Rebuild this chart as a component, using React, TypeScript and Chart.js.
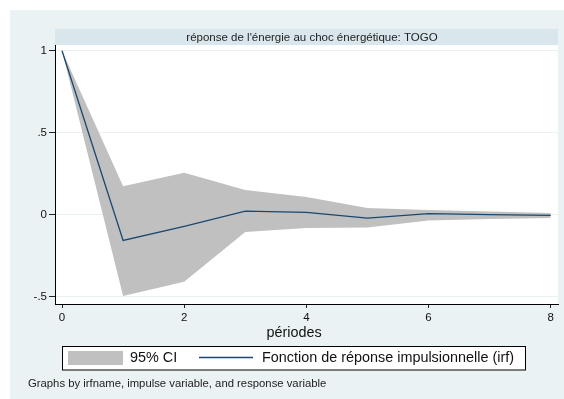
import React, { useEffect, useRef } from "react";
import { Chart, registerables } from "chart.js";

Chart.register(...registerables);

const periods = [0, 1, 2, 3, 4, 5, 6, 7, 8];
const irf = [1, -0.157, -0.071, 0.022, 0.014, -0.021, 0.006, 0.0, -0.004];
const ciUpper = [1, 0.174, 0.256, 0.15, 0.107, 0.041, 0.028, 0.02, 0.01];
const ciLower = [1, -0.496, -0.41, -0.106, -0.082, -0.079, -0.035, -0.027, -0.021];
const xTicks = [0, 2, 4, 6, 8];
const xTickLabels = ["0", "2", "4", "6", "8"];
const yTicks = [-0.5, 0, 0.5, 1];
const yTickLabels = ["-.5", "0", ".5", "1"];
const titleText = "réponse de l'énergie au choc énergétique: TOGO";
const xTitle = "périodes";
const legendLabels = ["95% CI", "Fonction de réponse impulsionnelle (irf)"];
const footerText = "Graphs by irfname, impulse variable, and response variable";

const FONT = '"Liberation Sans", Arial, Helvetica, sans-serif';
const BG = "#EAF2F3";
const STRIP = "#D9E6EB";
const CI_COLOR = "#C0C0C0";
const LINE_COLOR = "#1A476F";

const decorPlugin = {
  id: "decor",
  beforeDraw(chart: any) {
    const { ctx, width, height, chartArea } = chart;
    ctx.save();
    ctx.fillStyle = "#FFFFFF";
    ctx.fillRect(0, 0, width, height);
    ctx.fillStyle = BG;
    ctx.fillRect(10, 10, width - 10, height - 10);
    ctx.fillStyle = "#FFFFFF";
    ctx.fillRect(chartArea.left, chartArea.top, chartArea.right - chartArea.left, chartArea.bottom - chartArea.top);
    // title strip
    ctx.fillStyle = STRIP;
    ctx.fillRect(chartArea.left, 29, chartArea.right - chartArea.left, 16);
    ctx.fillStyle = "#1E1E1E";
    ctx.font = `11.5px ${FONT}`;
    ctx.textAlign = "center";
    ctx.textBaseline = "middle";
    ctx.fillText(titleText, 312, 37.5);
    ctx.restore();
  },
  afterDraw(chart: any) {
    const { ctx } = chart;
    ctx.save();
    // x axis title
    ctx.fillStyle = "#111111";
    ctx.font = `14.4px ${FONT}`;
    ctx.textAlign = "center";
    ctx.textBaseline = "middle";
    ctx.fillText(xTitle, 294, 333);
    // legend box
    const lx = 62.5, ly = 346.5, lw = 463, lh = 23.5;
    ctx.fillStyle = "#FFFFFF";
    ctx.fillRect(lx, ly, lw, lh);
    ctx.strokeStyle = "#000000";
    ctx.lineWidth = 1;
    ctx.strokeRect(lx, ly, lw, lh);
    ctx.fillStyle = CI_COLOR;
    ctx.fillRect(68, 351, 55, 14);
    ctx.fillStyle = "#111111";
    ctx.textAlign = "left";
    ctx.fillText(legendLabels[0], 130, 358.5);
    ctx.strokeStyle = LINE_COLOR;
    ctx.lineWidth = 1.3;
    ctx.beginPath();
    ctx.moveTo(199, 357.5);
    ctx.lineTo(253, 357.5);
    ctx.stroke();
    ctx.fillText(legendLabels[1], 262, 358.5);
    // footer
    ctx.font = `11.3px ${FONT}`;
    ctx.fillStyle = "#222222";
    ctx.fillText(footerText, 28, 384);
    ctx.restore();
  },
};

export default function App() {
  const canvasRef = useRef<HTMLCanvasElement | null>(null);

  useEffect(() => {
    if (!canvasRef.current) return;
    const chart = new Chart(canvasRef.current, {
      type: "line",
      data: {
        datasets: [
          {
            label: "irf",
            data: periods.map((p, i) => ({ x: p, y: irf[i] })),
            borderWidth: 1.3,
            borderColor: LINE_COLOR,
            pointRadius: 0,
            fill: false,
            tension: 0,
          },
          {
            label: "upper",
            data: periods.map((p, i) => ({ x: p, y: ciUpper[i] })),
            borderWidth: 0,
            borderColor: "rgba(0,0,0,0)",
            backgroundColor: CI_COLOR,
            pointRadius: 0,
            fill: "+1",
            tension: 0,
          },
          {
            label: "lower",
            data: periods.map((p, i) => ({ x: p, y: ciLower[i] })),
            borderWidth: 0,
            borderColor: "rgba(0,0,0,0)",
            backgroundColor: CI_COLOR,
            pointRadius: 0,
            fill: false,
            tension: 0,
          },
        ],
      },
      options: {
        animation: false,
        responsive: false,
        maintainAspectRatio: false,
        devicePixelRatio: 1,
        layout: { padding: { left: 0, right: 6, top: 45, bottom: 0 } },
        plugins: {
          legend: { display: false },
          title: { display: false },
          tooltip: { enabled: false },
          filler: { drawTime: "beforeDatasetsDraw" },
        },
        scales: {
          x: {
            type: "linear",
            min: -0.115,
            max: 8.12,
            afterBuildTicks: (scale: any) => {
              scale.ticks = xTicks.map((v) => ({ value: v }));
            },
            afterFit: (scale: any) => {
              scale.height = 95;
            },
            ticks: {
              autoSkip: false,
              maxRotation: 0,
              padding: 3,
              color: "#111111",
              font: { family: FONT, size: 11.5 },
              callback: (value: any) => {
                const i = xTicks.indexOf(Number(value));
                return i >= 0 ? xTickLabels[i] : "";
              },
            },
            grid: {
              drawOnChartArea: false,
              drawTicks: true,
              tickLength: 4,
              tickColor: "#222222",
              tickWidth: 1,
            },
            border: { display: true, color: "#000000", width: 1 },
          },
          y: {
            type: "linear",
            min: -0.545,
            max: 1.035,
            afterBuildTicks: (scale: any) => {
              scale.ticks = yTicks.map((v) => ({ value: v }));
            },
            afterFit: (scale: any) => {
              scale.width = 55;
            },
            ticks: {
              autoSkip: false,
              padding: 2,
              color: "#111111",
              font: { family: FONT, size: 11.5 },
              callback: (value: any) => {
                const i = yTicks.indexOf(Number(value));
                return i >= 0 ? yTickLabels[i] : "";
              },
            },
            grid: {
              drawOnChartArea: true,
              color: "#E8F0F2",
              lineWidth: 1,
              drawTicks: true,
              tickLength: 6,
              tickColor: "#222222",
              tickWidth: 1,
            },
            border: { display: true, color: "#000000", width: 1 },
          },
        },
      },
      plugins: [decorPlugin],
    } as any);
    return () => chart.destroy();
  }, []);

  return (
    <div style={{ position: "absolute", left: 0, top: 0, width: 564, height: 399 }}>
      <canvas ref={canvasRef} width={564} height={399} style={{ display: "block", width: 564, height: 399 }} />
    </div>
  );
}
